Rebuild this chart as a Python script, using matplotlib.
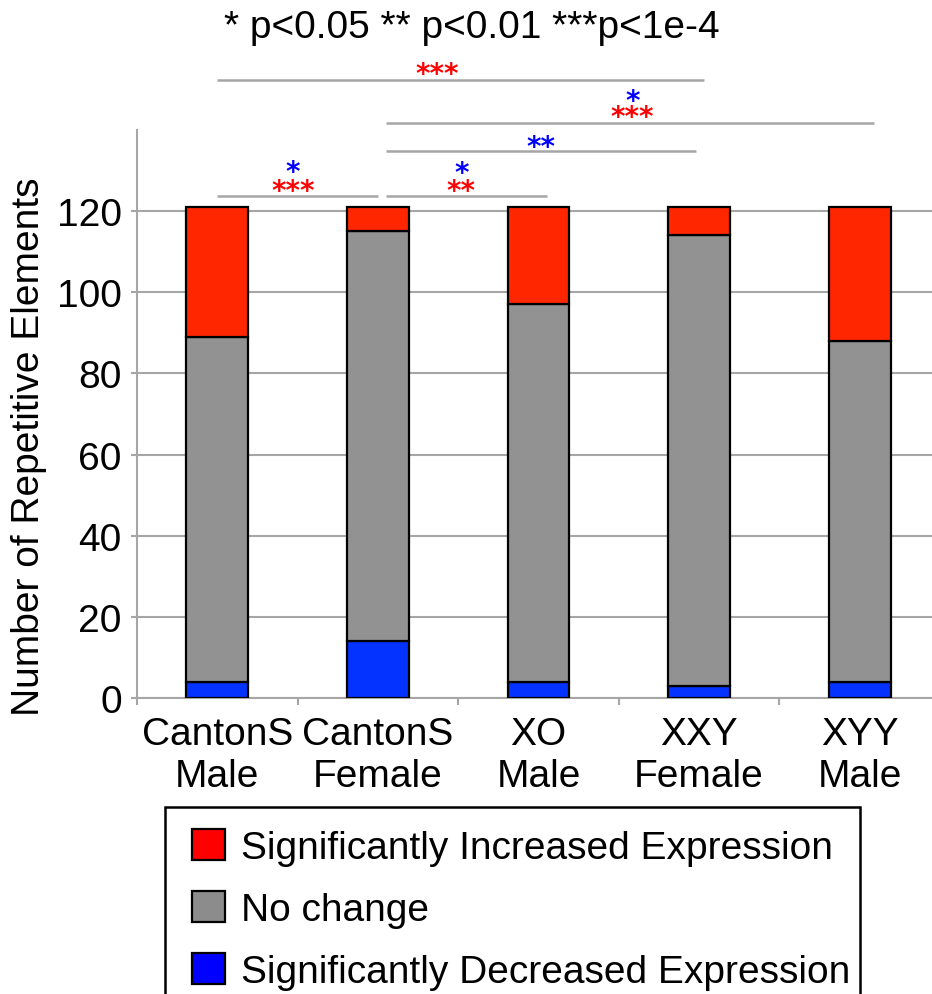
import matplotlib
matplotlib.use("Agg")
import matplotlib.pyplot as plt
import matplotlib.transforms as mtransforms
from matplotlib.patches import Patch, Rectangle
import numpy as np

plt.rcParams['font.family'] = ['Liberation Sans', 'DejaVu Sans']

categories = ["CantonS\nMale", "CantonS\nFemale", "XO\nMale", "XXY\nFemale", "XYY\nMale"]
decreased = [4, 14, 4, 3, 4]
no_change = [85, 101, 93, 111, 84]
increased = [32, 6, 24, 7, 33]

legend_labels = ["Significantly Increased Expression", "No change",
                 "Significantly Decreased Expression"]

# significance brackets: (x start, x end, y height)
brackets = [(0.0, 1.0, 123.7), (1.05, 2.05, 123.7), (1.05, 2.98, 134.9),
            (1.05, 4.09, 141.8), (0.0, 3.03, 152.4)]
# star annotations: (x center, y center, text, color)
stars = [(0.47, 126.7, "***", "#FF0000"), (0.47, 131.4, "*", "#0000FF"),
         (1.52, 126.7, "**", "#FF0000"), (1.52, 131.3, "*", "#0000FF"),
         (2.015, 137.7, "**", "#0000FF"),
         (2.585, 145.0, "***", "#FF0000"), (2.585, 149.0, "*", "#0000FF"),
         (1.37, 155.6, "***", "#FF0000")]

RED, GRAY, BLUE = "#FF2600", "#929292", "#0433FF"
LGRAY = "#A6A6A6"
FS = 28
SFS = 20

fig = plt.figure(figsize=(9.32, 9.95), dpi=100)
ax = fig.add_axes([137/932, 1-699/995, (940-137)/932, (699-131)/995])

x = np.arange(len(categories))
w = 0.385
dec = np.array(decreased); nc = np.array(no_change); inc = np.array(increased)
ax.bar(x, dec, w, color=BLUE, edgecolor='black', linewidth=1.6, zorder=3)
ax.bar(x, nc, w, bottom=dec, color=GRAY, edgecolor='black', linewidth=1.6, zorder=3)
ax.bar(x, inc, w, bottom=dec+nc, color=RED, edgecolor='black', linewidth=1.6, zorder=3)

ax.set_xlim(-0.5, 4.5)
ax.set_ylim(0, 140)
ax.set_yticks(np.arange(0, 121, 20))
ax.yaxis.grid(True, color=LGRAY, linewidth=1.5, zorder=0)
ax.set_axisbelow(True)
for s in ['top', 'right']:
    ax.spines[s].set_visible(False)
for s in ['left', 'bottom']:
    ax.spines[s].set_color(LGRAY)
    ax.spines[s].set_linewidth(1.5)
ax.tick_params(axis='y', length=4, width=1.5, color=LGRAY, pad=7, labelsize=FS)
ax.set_xticks(np.arange(-0.5, 4.6, 1.0))
ax.set_xticklabels([])
ax.tick_params(axis='x', which='major', length=5, width=1.5, color=LGRAY)
ax.set_xticks(x, minor=True)
ax.set_xticklabels(categories, minor=True, fontsize=FS, linespacing=1.2)
ax.tick_params(axis='x', which='minor', length=0, pad=13)
ax.set_ylabel("Number of Repetitive Elements", fontsize=FS)
ax.yaxis.set_label_coords(-0.112, 0.444)

for x0, x1, yy in brackets:
    ax.plot([x0, x1], [yy, yy], color=LGRAY, linewidth=1.8, clip_on=False,
            solid_capstyle='butt', zorder=2)

off = mtransforms.offset_copy(ax.transData, fig=fig, x=0, y=-0.55*SFS, units='points')
for xs, ys, t, c in stars:
    ax.text(xs, ys, t, color=c, fontsize=SFS, ha='center', va='baseline',
            transform=off, clip_on=False, family='DejaVu Sans', weight='bold')

fig.text(472/932, 1-28/995, "* p<0.05 ** p<0.01 ***p<1e-4", fontsize=FS,
         ha='center', va='center')

handles = [Patch(facecolor="#FF0000", edgecolor='black', linewidth=1.6),
           Patch(facecolor="#8C8C8C", edgecolor='black', linewidth=1.6),
           Patch(facecolor="#0000FF", edgecolor='black', linewidth=1.6)]
leg = fig.legend(handles, legend_labels, loc='upper left',
                 bbox_to_anchor=(165/932, 1-803/995), borderaxespad=0,
                 fontsize=FS, frameon=False,
                 handlelength=0.85, handleheight=0.85, handletextpad=0.4,
                 borderpad=0.7, labelspacing=0.64)
fig.patches.append(Rectangle((165/932, -0.05), (860-165)/932, 0.05 + 1-808/995,
                             transform=fig.transFigure, fill=False,
                             edgecolor='black', linewidth=1.8))

fig.savefig("out.png", dpi=100)
